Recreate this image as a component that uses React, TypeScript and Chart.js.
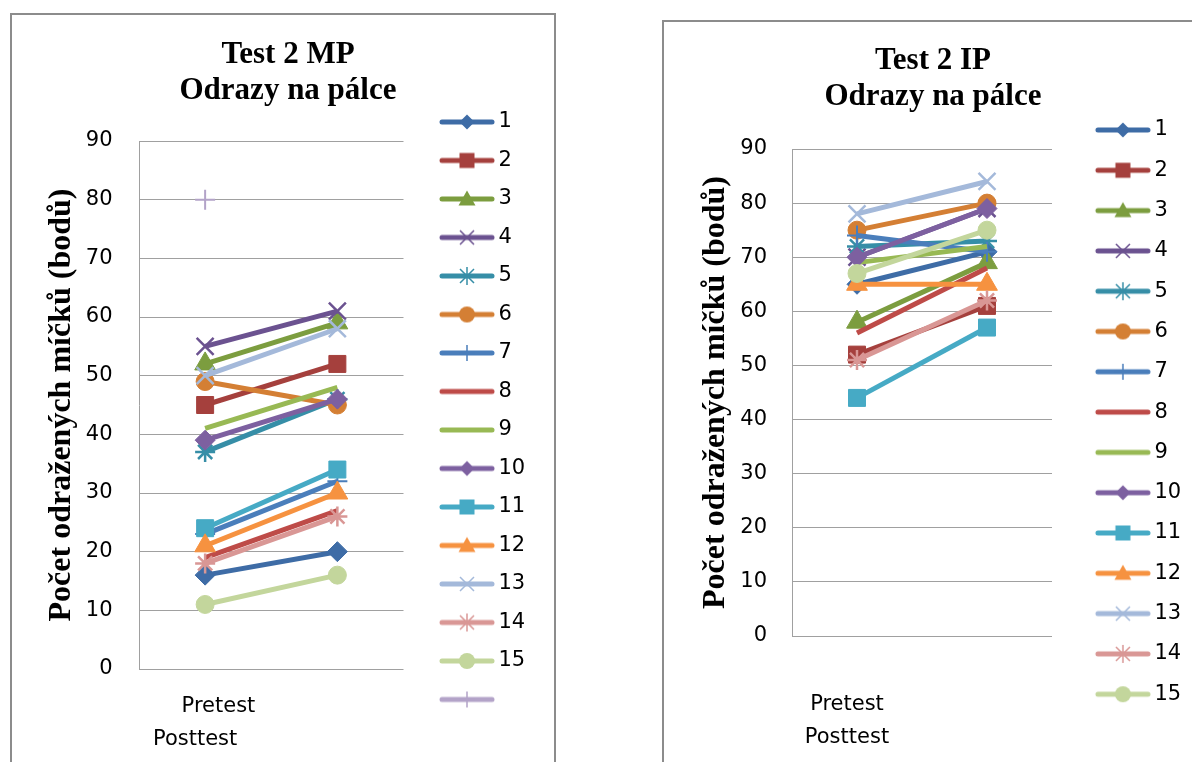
import React, { useEffect, useRef } from 'react';
import { Chart, registerables } from 'chart.js';

Chart.register(...registerables);

// ---------- data ----------
const categories = ['Pretest', 'Posttest'];
const seriesNames = ['1', '2', '3', '4', '5', '6', '7', '8', '9', '10', '11', '12', '13', '14', '15'];
const yTicksMin = 0;
const yTicksMax = 90;
const yTickStep = 10;

// Test 2 MP
const mpPretest = [16, 45, 52, 55, 37, 49, 23, 19, 41, 39, 24, 21, 50, 18, 11, 80];
const mpPosttest = [20, 52, 59, 61, 46, 45, 32, 27, 48, 46, 34, 30, 58, 26, 16, null];
const mpNames = [...seriesNames, ''];

// Test 2 IP
const ipPretest = [65, 52, 58, 70, 72, 75, 74, 56, 69, 70, 44, 65, 78, 51, 67];
const ipPosttest = [71, 61, 69, 79, 73, 80, 71, 68, 72, 79, 57, 65, 84, 62, 75];
const ipNames = [...seriesNames];

const mpTitle = ['Test 2 MP', 'Odrazy na pálce'];
const ipTitle = ['Test 2 IP', 'Odrazy na pálce'];
const yTitle = 'Počet odražených míčků (bodů)';

const seriesColors = [
  '#3E6CA6', '#A5403D', '#7C9D3F', '#6B5290', '#368EA7', '#D47F34',
  '#4A7EBB', '#BE4B48', '#98B954', '#7D60A0', '#46AAC5', '#F69240',
  '#A4B9DA', '#D99795', '#C3D69C', '#B3A3C8',
];
const seriesMarkers = [
  'diamond', 'square', 'triangle', 'x', 'star', 'circle', 'plus', 'none',
  'none', 'diamond', 'square', 'triangle', 'x', 'star', 'circle', 'plus',
];

// ---------- styles ----------
const SANS = "'DejaVu Sans', sans-serif";
const SERIF = "'Liberation Serif', 'Times New Roman', serif";
const GRID = '#a0a0a0';
const TICK_SIZE = 21;

const markerStyle: Record<string, { style: any; radius: number; stroke: number }> = {
  diamond: { style: 'rectRot', radius: 10, stroke: 1 },
  square: { style: 'rect', radius: 12, stroke: 1 },
  triangle: { style: 'triangle', radius: 12, stroke: 1 },
  x: { style: 'crossRot', radius: 12, stroke: 2.5 },
  star: { style: 'star', radius: 10, stroke: 2.5 },
  circle: { style: 'circle', radius: 9, stroke: 1 },
  plus: { style: 'cross', radius: 10, stroke: 2 },
  none: { style: 'circle', radius: 0, stroke: 0 },
};

function makeIcon(color: string, kind: string): HTMLCanvasElement {
  const cv = document.createElement('canvas');
  cv.width = 58;
  cv.height = 22;
  const g = cv.getContext('2d')!;
  g.strokeStyle = color;
  g.fillStyle = color;
  g.lineWidth = 5;
  g.lineCap = 'round';
  g.beginPath();
  g.moveTo(4, 11);
  g.lineTo(54, 11);
  g.stroke();
  const cx = 29;
  const cy = 11;
  g.lineCap = 'butt';
  g.lineWidth = 1.5;
  g.beginPath();
  switch (kind) {
    case 'diamond':
      g.moveTo(cx, cy - 7.5); g.lineTo(cx + 7.5, cy); g.lineTo(cx, cy + 7.5); g.lineTo(cx - 7.5, cy); g.closePath(); g.fill();
      break;
    case 'square':
      g.fillRect(cx - 7.5, cy - 7.5, 15, 15);
      break;
    case 'triangle':
      g.moveTo(cx, cy - 8.5); g.lineTo(cx + 8.5, cy + 6.5); g.lineTo(cx - 8.5, cy + 6.5); g.closePath(); g.fill();
      break;
    case 'circle':
      g.arc(cx, cy, 8, 0, Math.PI * 2); g.fill();
      break;
    case 'x':
      g.moveTo(cx - 7, cy - 7); g.lineTo(cx + 7, cy + 7); g.moveTo(cx + 7, cy - 7); g.lineTo(cx - 7, cy + 7); g.stroke();
      break;
    case 'star':
      g.moveTo(cx - 7, cy - 7); g.lineTo(cx + 7, cy + 7); g.moveTo(cx + 7, cy - 7); g.lineTo(cx - 7, cy + 7);
      g.moveTo(cx, cy - 9); g.lineTo(cx, cy + 9); g.stroke();
      break;
    case 'plus':
      g.moveTo(cx, cy - 8); g.lineTo(cx, cy + 8); g.moveTo(cx - 8, cy); g.lineTo(cx + 8, cy); g.stroke();
      break;
    default:
      break;
  }
  return cv;
}

type Params = {
  x: number; y: number; width: number; height: number;
  title: string[]; names: string[]; pre: (number | null)[]; post: (number | null)[];
  xLabels: any[];
  padL: number; padR: number;
  titlePadTop: number; titlePadBottom: number;
  yAxisWidth: number; yTitlePadTop: number; yTickPad: number;
  xAxisHeight: number; xTickPad: number;
  gapRight: number;
  legendTop: number; legendPad: number;
};

function buildConfig(p: Params): any {
  const icons = p.names.map((_, i) => makeIcon(seriesColors[i], seriesMarkers[i]));
  const datasets = p.names.map((name, i) => {
    const m = markerStyle[seriesMarkers[i]];
    const c = seriesColors[i];
    return {
      label: name,
      data: [p.pre[i], p.post[i]],
      borderColor: c,
      backgroundColor: c,
      borderWidth: 5,
      pointStyle: m.style,
      pointRadius: m.radius,
      pointHoverRadius: m.radius,
      pointBackgroundColor: c,
      pointBorderColor: c,
      pointBorderWidth: m.stroke,
      tension: 0,
      fill: false,
      order: 100 - i,
    };
  });
  return {
    type: 'line',
    data: { labels: p.xLabels, datasets },
    options: {
      responsive: false,
      animation: false,
      events: [],
      layout: { padding: { left: p.padL, right: p.padR, top: 0, bottom: 0 } },
      plugins: {
        tooltip: { enabled: false },
        title: {
          display: true,
          text: p.title,
          color: '#000',
          font: { family: SERIF, size: 31, weight: 'bold', lineHeight: 36 / 31 },
          padding: { top: p.titlePadTop, bottom: p.titlePadBottom },
        },
        legend: {
          display: true,
          position: 'right',
          align: 'start',
          maxWidth: 100,
          title: {
            display: true,
            text: '',
            font: { size: 10, lineHeight: 1 },
            padding: { top: p.legendTop - 10, bottom: 0 },
          },
          labels: {
            usePointStyle: true,
            pointStyleWidth: 42,
            padding: p.legendPad,
            color: '#000',
            font: { family: SANS, size: TICK_SIZE },
            generateLabels: (chart: any) => {
              const items = (Chart.defaults as any).plugins.legend.labels.generateLabels(chart);
              return items.map((it: any) => ({ ...it, pointStyle: icons[it.datasetIndex], rotation: 0 }));
            },
            sort: (a: any, b: any) => a.datasetIndex - b.datasetIndex,
          },
        },
      },
      scales: {
        x: {
          type: 'category',
          offset: true,
          grid: { display: false, drawTicks: false },
          border: { display: false },
          ticks: {
            color: '#000',
            font: { family: SANS, size: TICK_SIZE, lineHeight: 33 / TICK_SIZE },
            padding: p.xTickPad,
            maxRotation: 0,
            autoSkip: false,
          },
          afterFit: (s: any) => { s.height = p.xAxisHeight; },
        },
        y: {
          type: 'linear',
          position: 'left',
          min: yTicksMin,
          max: yTicksMax,
          ticks: {
            stepSize: yTickStep,
            color: '#000',
            font: { family: SANS, size: TICK_SIZE },
            padding: p.yTickPad,
          },
          grid: { color: GRID, lineWidth: 1, drawTicks: false },
          border: { display: true, color: GRID, width: 1 },
          title: {
            display: true,
            text: yTitle,
            color: '#000',
            font: { family: SERIF, size: 32, weight: 'bold', lineHeight: 1 },
            padding: { top: p.yTitlePadTop, bottom: 0 },
          },
          afterFit: (s: any) => { s.width = p.yAxisWidth; },
        },
        gap: {
          type: 'linear',
          position: 'right',
          display: true,
          grid: { display: false, drawTicks: false },
          border: { display: false },
          ticks: { display: false },
          afterFit: (s: any) => { s.width = p.gapRight; },
        },
      },
    },
  };
}

function LineChart({ p }: { p: Params }) {
  const ref = useRef<HTMLCanvasElement>(null);
  useEffect(() => {
    const chart = new Chart(ref.current as HTMLCanvasElement, buildConfig(p));
    return () => chart.destroy();
  }, []);
  return (
    <canvas
      ref={ref}
      width={p.width}
      height={p.height}
      style={{ position: 'absolute', left: p.x, top: p.y, width: p.width, height: p.height }}
    />
  );
}

const mpParams: Params = {
  x: 12, y: 15, width: 542, height: 747,
  title: mpTitle, names: mpNames, pre: mpPretest, post: mpPosttest,
  xLabels: [['    ' + categories[0], categories[1] + '   '], ''],
  padL: 35.5, padR: 25.5,
  titlePadTop: 22, titlePadBottom: 32,
  yAxisWidth: 91.5, yTitlePadTop: -1.5, yTickPad: 26.5,
  xAxisHeight: 93, xTickPad: 20.6,
  gapRight: 25,
  legendTop: 79, legendPad: 17.5,
};

const ipParams: Params = {
  x: 664, y: 23, width: 560, height: 739,
  title: ipTitle, names: ipNames, pre: ipPretest, post: ipPosttest,
  xLabels: [[categories[0] + '   ', categories[1] + '   '], ''],
  padL: 19.4, padR: 41.4,
  titlePadTop: 20.4, titlePadBottom: 33.6,
  yAxisWidth: 108.6, yTitlePadTop: 16.1, yTickPad: 25,
  xAxisHeight: 126, xTickPad: 52.4,
  gapRight: 30.6,
  legendTop: 77.2, legendPad: 19.3,
};

export default function App() {
  return (
    <div style={{ position: 'fixed', left: 0, top: 0, width: 1192, height: 762, overflow: 'hidden', background: '#fff' }}>
      <div style={{ position: 'absolute', left: 10, top: 13, width: 546, height: 800, border: '2px solid #8c8c8c', boxSizing: 'border-box' }} />
      <div style={{ position: 'absolute', left: 662, top: 20, width: 600, height: 800, border: '2px solid #8c8c8c', boxSizing: 'border-box' }} />
      <LineChart p={mpParams} />
      <LineChart p={ipParams} />
    </div>
  );
}
